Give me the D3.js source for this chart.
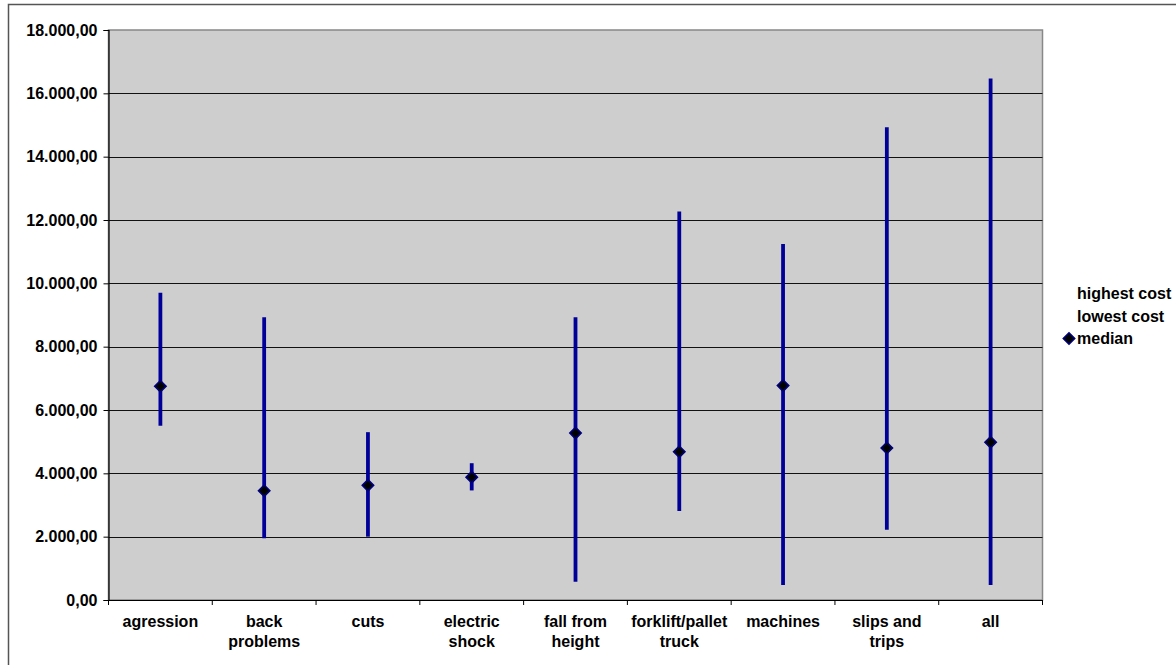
<!DOCTYPE html>
<html>
<head>
<meta charset="utf-8">
<script src="https://cdn.jsdelivr.net/npm/d3@7"></script>
<style>
  html, body { margin: 0; padding: 0; background: #fff; }
  svg { display: block; font-family: "Liberation Sans", Arial, sans-serif; }
</style>
</head>
<body>
<svg id="chart" width="1176" height="665"></svg>
<script>
const categories = ["agression", "back problems", "cuts", "electric shock", "fall from height", "forklift/pallet truck", "machines", "slips and trips", "all"];
const categoryLines = [["agression"], ["back", "problems"], ["cuts"], ["electric", "shock"], ["fall from", "height"], ["forklift/pallet", "truck"], ["machines"], ["slips and", "trips"], ["all"]];
const highestCost = [9700, 8930, 5300, 4320, 8930, 12270, 11240, 14930, 16470];
const lowestCost  = [5500, 1950, 2000, 3460, 580, 2810, 470, 2220, 470];
const medianCost  = [6750, 3450, 3620, 3880, 5270, 4680, 6770, 4800, 4980];
const yTicks = [0, 2000, 4000, 6000, 8000, 10000, 12000, 14000, 16000, 18000];
const legendLabels = ["highest cost", "lowest cost", "median"];

(function () {
const svg = d3.select("#chart");
const pL = 108.5, pR = 1042.5, pT = 30, pB = 600;
const FS = 16;

const fmt = d3.formatLocale({decimal: ",", thousands: ".", grouping: [3], currency: ["", ""]}).format(",.2f");

const x = d3.scaleBand().domain(categories).range([pL, pR]).padding(0);
const y = d3.scaleLinear().domain([0, 18000]).range([pB, pT]);

// outer chart border
svg.append("path").attr("d", "M8.5,665 L8.5,4.5 L1176,4.5").attr("fill", "none").attr("stroke", "#555").attr("stroke-width", 1.5);

// plot area
svg.append("rect").attr("x", pL).attr("y", pT).attr("width", pR - pL).attr("height", pB - pT)
  .attr("fill", "#cecece").attr("stroke", "#888").attr("stroke-width", 1.5);

// gridlines
svg.append("g").selectAll("line").data(yTicks.filter(d => d > 0 && d < 18000)).join("line")
  .attr("x1", pL).attr("x2", pR).attr("y1", d => Math.round(y(d)) + 0.5).attr("y2", d => Math.round(y(d)) + 0.5)
  .attr("stroke", "#111").attr("stroke-width", 1);

// y axis
const yAxis = svg.append("g").attr("transform", `translate(${pL},0)`)
  .call(d3.axisLeft(y).tickValues(yTicks).tickFormat(fmt).tickSize(5).tickPadding(6));
yAxis.select(".domain").attr("stroke", "#000").attr("stroke-width", 1.2);
yAxis.selectAll(".tick line").attr("stroke", "#000");
yAxis.selectAll("text").attr("font-size", FS).attr("font-weight", "bold").attr("fill", "#000")
  .attr("font-family", "'Liberation Sans', Arial, sans-serif");

// x axis
const xAxis = svg.append("g").attr("transform", `translate(0,${pB})`)
  .call(d3.axisBottom(x).tickSize(0).tickFormat(""));
xAxis.select(".domain").attr("stroke", "#000").attr("stroke-width", 1.2);
const bounds = categories.map(c => x(c)).concat([pR]);
svg.append("g").selectAll("line").data(bounds).join("line")
  .attr("x1", d => d).attr("x2", d => d).attr("y1", pB).attr("y2", pB + 5)
  .attr("stroke", "#000").attr("stroke-width", 1);

// x labels
const xl = svg.append("g").selectAll("text").data(categories).join("text")
  .attr("x", d => x(d) + x.bandwidth() / 2)
  .attr("y", 627)
  .attr("text-anchor", "middle").attr("font-size", FS).attr("font-weight", "bold").attr("fill", "#000");
xl.each(function(d, i) {
  const t = d3.select(this);
  categoryLines[i].forEach((ln, j) => {
    t.append("tspan").attr("x", x(d) + x.bandwidth() / 2).attr("dy", j === 0 ? 0 : 20).text(ln);
  });
});

// range lines
svg.append("g").selectAll("line").data(categories).join("line")
  .attr("x1", d => x(d) + x.bandwidth() / 2).attr("x2", d => x(d) + x.bandwidth() / 2)
  .attr("y1", (d, i) => y(highestCost[i])).attr("y2", (d, i) => y(lowestCost[i]))
  .attr("stroke", "#000099").attr("stroke-width", 3.8);

// median diamonds
const diamond = d3.symbol().type(d3.symbolDiamond2).size(84);
svg.append("g").selectAll("path").data(categories).join("path")
  .attr("d", diamond)
  .attr("transform", (d, i) => `translate(${x(d) + x.bandwidth() / 2},${y(medianCost[i])})`)
  .attr("fill", "#000").attr("stroke", "#000080").attr("stroke-width", 1.5);

// legend
const lg = svg.append("g");
lg.selectAll("text").data(legendLabels).join("text")
  .attr("x", 1077).attr("y", (d, i) => 299 + i * 22.5)
  .attr("font-size", FS).attr("font-weight", "bold").attr("fill", "#000").text(d => d);
lg.append("path").attr("d", diamond).attr("transform", "translate(1069,338.5)")
  .attr("fill", "#000").attr("stroke", "#000080").attr("stroke-width", 1.5);
})();
</script>
</body>
</html>
